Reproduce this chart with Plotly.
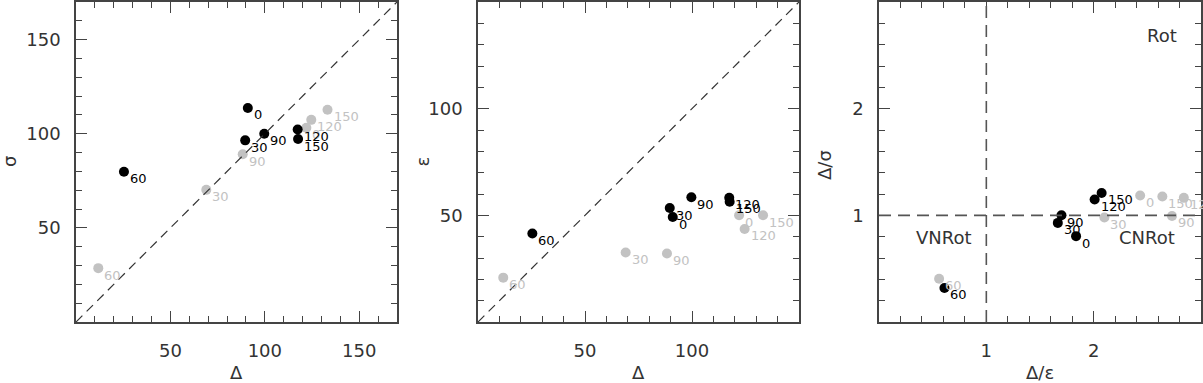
import plotly.graph_objects as go

# ---- data ----
angles = ["0", "30", "60", "90", "120", "150"]

# black series
delta_black = [91.0, 89.6, 25.4, 99.7, 117.4, 117.6]
sigma_black = [113.7, 96.5, 79.8, 100.0, 102.3, 97.2]
eps_black = [49.2, 53.4, 41.5, 58.5, 58.2, 56.4]
# grey series
delta_grey = [122.0, 69.0, 11.8, 88.3, 124.6, 133.2]
sigma_grey = [103.2, 70.2, 28.6, 89.1, 107.4, 112.8]
eps_grey = [50.0, 32.6, 20.8, 32.1, 43.6, 50.0]
# third panel (ratios)
d_over_eps_black = [1.836, 1.666, 0.61, 1.70, 2.009, 2.074]
d_over_sig_black = [0.805, 0.929, 0.319, 1.00, 1.149, 1.21]
d_over_eps_grey = [2.433, 2.10, 0.56, 2.73, 2.84, 2.64]
d_over_sig_grey = [1.186, 0.98, 0.406, 0.994, 1.164, 1.176]

region_labels = ["Rot", "VNRot", "CNRot"]
region_x = [2.64, 0.607, 2.495]
region_y = [2.69, 0.79, 0.79]

BLACK = "#000000"
GREY = "#c2c2c2"
AXC = "#444444"
FONT = "DejaVu Sans"

W, H = 1203, 383
def px(x):
    return x / W
def py(y):
    return 1 - y / H

fig = go.Figure()

panels = [
    ("x", "y", delta_grey, sigma_grey, delta_black, sigma_black),
    ("x2", "y2", delta_grey, eps_grey, delta_black, eps_black),
    ("x3", "y3", d_over_eps_grey, d_over_sig_grey, d_over_eps_black, d_over_sig_black),
]

annotations = []
for xa, ya, gx, gy, bx, by in panels:
    fig.add_trace(go.Scatter(x=gx, y=gy, xaxis=xa, yaxis=ya, mode="markers",
                             marker=dict(color=GREY, size=10), showlegend=False,
                             cliponaxis=False, hoverinfo="skip"))
    fig.add_trace(go.Scatter(x=bx, y=by, xaxis=xa, yaxis=ya, mode="markers",
                             marker=dict(color=BLACK, size=10), showlegend=False,
                             cliponaxis=False, hoverinfo="skip"))
    for col, xs, ys in ((GREY, gx, gy), (BLACK, bx, by)):
        for a, xv, yv in zip(angles, xs, ys):
            annotations.append(dict(x=xv, y=yv, xref=xa, yref=ya, text=a,
                                    showarrow=False, xanchor="left", yanchor="middle",
                                    xshift=4, yshift=-7,
                                    font=dict(family=FONT, size=13, color=col)))

for t, xv, yv in zip(region_labels, region_x, region_y):
    annotations.append(dict(x=xv, y=yv, xref="x3", yref="y3", text=t, showarrow=False,
                            xanchor="center", yanchor="middle",
                            font=dict(family=FONT, size=18, color="#333333")))

# axis titles
titles = [("Δ", 236.5, 372, 0), ("Δ", 638.5, 372, 0), ("Δ/ε", 1040, 372, 0),
          ("σ", 9, 162, -90), ("ε", 421.5, 162, -90), ("Δ/σ", 824, 165, -90)]
for t, xx, yy, ang in titles:
    annotations.append(dict(x=px(xx), y=py(yy), xref="paper", yref="paper", text=t,
                            showarrow=False, xanchor="center", yanchor="middle",
                            textangle=ang,
                            font=dict(family=FONT, size=18, color="#333333")))

# reference lines
shapes = [
    dict(type="line", xref="x", yref="y", x0=0, y0=0, x1=170, y1=170,
         line=dict(color="#333333", width=1.2, dash="9px,6px")),
    dict(type="line", xref="x2", yref="y2", x0=0, y0=0, x1=150, y1=150,
         line=dict(color="#333333", width=1.2, dash="9px,6px")),
    dict(type="line", xref="x3", yref="y3", x0=1, y0=0, x1=1, y1=3,
         line=dict(color="#555555", width=1.6, dash="12px,7px")),
    dict(type="line", xref="x3", yref="y3", x0=0, y0=1, x1=3, y1=1,
         line=dict(color="#555555", width=1.6, dash="12px,7px")),
]

ydom = [py(322), py(2)]
def axis(domain, rng, tickvals, minor, anchor, standoff):
    return dict(domain=domain, range=rng, anchor=anchor, tickvals=tickvals,
                automargin=False, fixedrange=True,
                ticks="inside", ticklen=11, tickwidth=1.3, tickcolor=AXC,
                showline=True, linecolor=AXC, linewidth=1.5, mirror="ticks",
                showgrid=False, zeroline=False, ticklabelstandoff=standoff,
                tickfont=dict(family=FONT, size=18, color="#333333"),
                minor=dict(dtick=minor, tick0=0, ticks="inside", ticklen=6,
                           tickwidth=1.2, tickcolor=AXC, showgrid=False))

fig.update_layout(
    width=W, height=H,
    margin=dict(l=0, r=0, t=0, b=0, autoexpand=False),
    paper_bgcolor="white", plot_bgcolor="white",
    xaxis=axis([px(76), px(397)], [0, 170], [50, 100, 150], 10, "y", 12),
    yaxis=axis(ydom, [0, 170], [50, 100, 150], 10, "x", 10),
    xaxis2=axis([px(478), px(799)], [0, 150], [50, 100], 10, "y2", 12),
    yaxis2=axis(ydom, [0, 150], [50, 100], 10, "x2", 10),
    xaxis3=axis([px(879), px(1201)], [0, 3], [1, 2], 0.2, "y3", 12),
    yaxis3=axis(ydom, [0, 3], [1, 2], 0.2, "x3", 10),
    annotations=annotations,
    shapes=shapes,
)

fig.write_html("out.html", config={"displayModeBar": False},
               post_script="document.body.style.margin='0';document.body.style.overflow='hidden';")
